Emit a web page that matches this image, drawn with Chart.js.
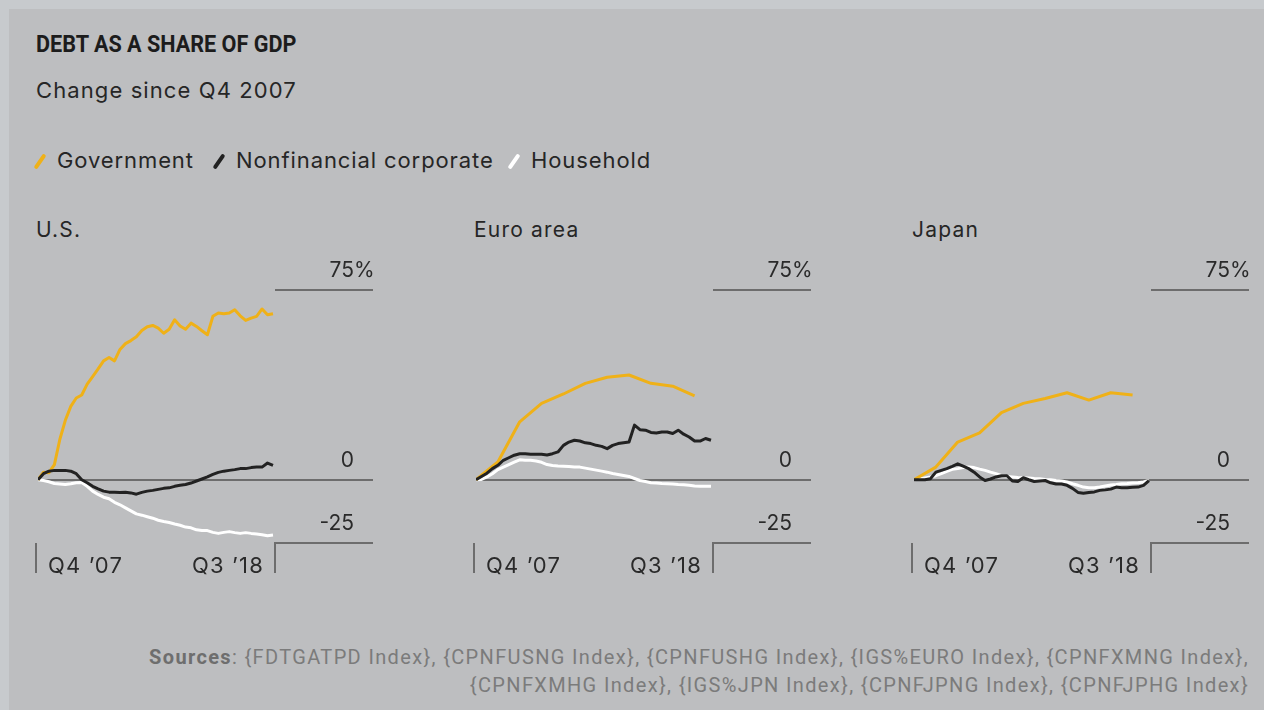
<!DOCTYPE html>
<html>
<head>
<meta charset="utf-8">
<script src="https://cdn.jsdelivr.net/npm/chart.js@4.4.0/dist/chart.umd.min.js"></script>
<style>
  body { margin:0; width:1264px; height:710px; background:#c7cacd; font-family: Inter, "Noto Sans", sans-serif; color:#222; overflow:hidden; position:relative; }
  #frame { position:absolute; left:9px; top:9px; width:1255px; height:701px; background:#bdbec0; }
  .txt { position:absolute; white-space:nowrap; line-height:1; }
  #title { left:36px; top:32px; font-size:24px; font-weight:700; font-family:Roboto, sans-serif; color:#1c1c1c; transform:scaleX(0.9); transform-origin:left top; }
  #subtitle { left:36px; top:79px; font-size:22px; color:#262626; letter-spacing:1.1px; }
  .leg { top:149px; font-size:22px; color:#262626; letter-spacing:0.9px; }
  .sw { display:inline-block; width:4px; height:17px; border-radius:2px; transform:rotate(35deg); margin-right:15px; vertical-align:-2px; }
  .ptitle { top:219px; font-size:21px; color:#262626; letter-spacing:1.2px; }
  canvas { position:absolute; top:255px; }
  #sources { right:15px; top:643px; font-size:20px; line-height:28px; color:#7b7b7b; text-align:right; font-family:Roboto, sans-serif; letter-spacing:1.35px; }
  #sources b { color:#6e6e6e; }
</style>
</head>
<body>
<div id="frame"></div>
<div class="txt" id="title">DEBT AS A SHARE OF GDP</div>
<div class="txt" id="subtitle">Change since Q4 2007</div>
<div class="txt leg" style="left:38px"><span class="sw" style="background:#efb118"></span>Government</div>
<div class="txt leg" style="left:217px"><span class="sw" style="background:#222"></span>Nonfinancial corporate</div>
<div class="txt leg" style="left:512px"><span class="sw" style="background:#fff"></span>Household</div>
<div class="txt ptitle" id="pt0" style="left:36px"></div>
<div class="txt ptitle" id="pt1" style="left:474px"></div>
<div class="txt ptitle" id="pt2" style="left:912px"></div>
<canvas id="c0" width="350" height="335" style="left:30px"></canvas>
<canvas id="c1" width="350" height="335" style="left:468px"></canvas>
<canvas id="c2" width="350" height="335" style="left:906px"></canvas>
<div class="txt" id="sources"><b>Sources</b>: {FDTGATPD Index}, {CPNFUSNG Index}, {CPNFUSHG Index}, {IGS%EURO Index}, {CPNFXMNG Index},<br>{CPNFXMHG Index}, {IGS%JPN Index}, {CPNFJPNG Index}, {CPNFJPHG Index}</div>
<script>
// quarterly data, Q4 2007 .. Q3 2018 (44 quarters), change in pct points of GDP
const panelTitles = ["U.S.", "Euro area", "Japan"];
const seriesNames = ["Government", "Nonfinancial corporate", "Household"];
const seriesColors = ["#efb118", "#222222", "#ffffff"];
const yTickValues = [75, 0, -25];
const yTickLabels = ["75%", "0", "-25"];
const xTickLabels = ["Q4 \u201907", "Q3 \u201918"];

const usGovernment = [0, 3, 2.8, 6, 16, 23.5, 29, 32.3, 33.5, 37.8, 40.8, 43.8, 47, 48.3, 47, 51.5,
  53.8, 55, 56.5, 59, 60.5, 61, 59.9, 57.9, 59.5, 63.2, 60.8, 59.5, 61.9, 60.6, 58.9, 57.3,
  64.6, 65.9, 65.6, 65.9, 67.2, 64.8, 63, 63.9, 64.6, 67.5, 65.2, 65.6];
const usCorporate = [0, 2.4, 3.4, 3.7, 3.7, 3.7, 3.4, 2.4, 0, -1.2, -2.6, -3.6, -4.5, -4.9, -4.9, -5,
  -4.9, -5.2, -5.7, -5, -4.5, -4.2, -3.8, -3.4, -3.2, -2.6, -2.2, -1.9, -1.3, -0.5, 0.3, 1.1,
  2.1, 2.9, 3.4, 3.7, 4, 4.4, 4.4, 4.8, 5, 5, 6.6, 5.7];
const usHousehold = [0, -0.3, -0.8, -1.5, -1.7, -1.9, -1.6, -1.2, -1.1, -2.6, -4.5, -5.8, -6.9, -7.5, -8.9, -9.9,
  -11.1, -12.3, -13.5, -14, -14.6, -15.2, -16, -16.5, -16.9, -17.5, -18, -18.7, -19, -19.8, -20.1, -20.1,
  -20.8, -21.2, -20.8, -20.5, -20.9, -21.2, -20.9, -21.2, -21.4, -21.7, -22.1, -21.8];

// euro area and japan government debt is annual (Q4 of each year)
const euroGovernment = [0, null, null, null, 7, null, null, null, 22.9, null, null, null, 30.2, null, null, null,
  33.9, null, null, null, 38.1, null, null, null, 40.5, null, null, null, 41.4, null, null, null,
  38.1, null, null, null, 37, null, null, null, 33.2, null, null, null];
const euroCorporate = [0, 1.3, 2.6, 4.4, 5.7, 7.7, 8.7, 9.7, 10.3, 10.3, 10.1, 10.1, 10.1, 9.8, 10.3, 11,
  13.6, 14.9, 15.6, 15.3, 14.6, 14.3, 13.6, 13.2, 12.3, 13.6, 14.3, 14.6, 14.9, 21.6, 19.8, 19.6,
  18.7, 18.5, 18.9, 18.9, 18.3, 19.6, 18, 16.9, 15.3, 15.3, 16.3, 15.6];
const euroHousehold = [0, 0.1, 1.1, 2.4, 4, 5, 6, 7, 7.9, 7.7, 7.7, 7.4, 6.9, 6, 5.6, 5.4,
  5.3, 5.2, 5, 5, 4.6, 4.2, 3.8, 3.4, 3, 2.5, 2.1, 1.7, 1.3, 0.5, -0.3, -0.7,
  -1.2, -1.3, -1.5, -1.6, -1.7, -1.9, -2, -2.2, -2.5, -2.6, -2.6, -2.6];

const japanGovernment = [0, null, null, null, 5, null, null, null, 14.9, null, null, null, 18.5, null, null, null,
  26.5, null, null, null, 30.2, null, null, null, 32.1, null, null, null, 34.4, null, null, null,
  31.5, null, null, null, 34.4, null, null, null, 33.5, null, null, null];
const japanCorporate = [0, 0, 0, 0.4, 3, 3.7, 4.4, 5.3, 6.3, 5.4, 4.4, 3, 1.1, -0.3, 0.3, 1.1,
  1.6, 1.6, -0.5, -0.7, 0.8, 0, -0.7, -0.5, -0.3, -1.2, -1.7, -1.7, -2.2, -3.4, -5, -5.3,
  -5, -4.8, -4.2, -4, -3.7, -2.9, -3.2, -3.2, -3, -2.9, -2.2, -0.3];
const japanHousehold = [0, 0.3, 0.7, 1.1, 1.6, 2.4, 3.3, 4.1, 4.4, 4.8, 5, 4.8, 4.2, 3.7, 3, 2.4,
  1.7, 1.3, 1.1, 0.9, 0.8, 0.7, 0.5, 0.4, 0.1, 0, -0.3, -0.5, -0.9, -1.6, -2.2, -2.9,
  -3.2, -3.2, -2.9, -2.5, -2.1, -1.9, -1.6, -1.5, -1.3, -1.2, -0.9, -0.3];

const panels = [
  [usGovernment, usCorporate, usHousehold],
  [euroGovernment, euroCorporate, euroHousehold],
  [japanGovernment, japanCorporate, japanHousehold]
];

const refLines = {
  id: 'refLines',
  beforeDatasetsDraw(chart) {
    const ctx = chart.ctx, xs = chart.scales.x, ys = chart.scales.y, area = chart.chartArea;
    const bracketX = Math.round(xs.getPixelForValue(usGovernment.length - 1)) + 2;
    ctx.save();
    ctx.strokeStyle = '#6d6d6d';
    ctx.lineWidth = 2;
    yTickValues.forEach((v) => {
      const py = Math.round(ys.getPixelForValue(v));
      ctx.beginPath();
      ctx.moveTo(v === 0 ? area.left : bracketX, py);
      ctx.lineTo(area.right, py);
      ctx.stroke();
    });
    const yb = Math.round(ys.getPixelForValue(-25));
    ctx.beginPath();
    ctx.moveTo(bracketX, yb - 1); ctx.lineTo(bracketX, yb + 30);
    ctx.moveTo(area.left - 2, yb); ctx.lineTo(area.left - 2, yb + 30);
    ctx.stroke();

    ctx.fillStyle = '#2a2a2a';
    ctx.font = '21px Inter';
    ctx.textBaseline = 'middle';
    yTickValues.forEach((v, i) => {
      const py = ys.getPixelForValue(v) - 19;
      const num = yTickLabels[i].replace('%', '');
      ctx.textAlign = 'right';
      ctx.fillText(num, area.right - 19, py);
      if (yTickLabels[i].endsWith('%')) {
        ctx.textAlign = 'left';
        ctx.fillText('%', area.right - 19, py);
      }
    });
    ctx.font = '22px Inter';
    ctx.letterSpacing = '1.2px';
    ctx.textAlign = 'left';
    ctx.fillText(xTickLabels[0], area.left + 10, yb + 23);
    ctx.textAlign = 'right';
    ctx.fillText(xTickLabels[1], bracketX - 11, yb + 23);
    ctx.restore();
  }
};

panels.forEach((series, p) => {
  document.getElementById('pt' + p).textContent = panelTitles[p];
  new Chart(document.getElementById('c' + p), {
    type: 'line',
    data: {
      datasets: series.map((vals, s) => ({
        label: seriesNames[s],
        data: vals.map((v, i) => ({ x: i, y: v })).filter((pt) => pt.y !== null),
        borderColor: seriesColors[s],
        borderWidth: 3,
        pointRadius: 0,
        tension: 0,
        borderJoinStyle: 'round',
        order: [2, 1, 3][s]
      }))
    },
    options: {
      responsive: false,
      animation: false,
      devicePixelRatio: 1,
      layout: { padding: { left: 8, right: 7, top: 35, bottom: 47 } },
      scales: {
        x: { type: 'linear', min: 0, max: 61.3, display: false },
        y: { min: -25, max: 75, display: false }
      },
      plugins: { legend: { display: false }, tooltip: { enabled: false } }
    },
    plugins: [refLines]
  });
});
</script>
</body>
</html>
